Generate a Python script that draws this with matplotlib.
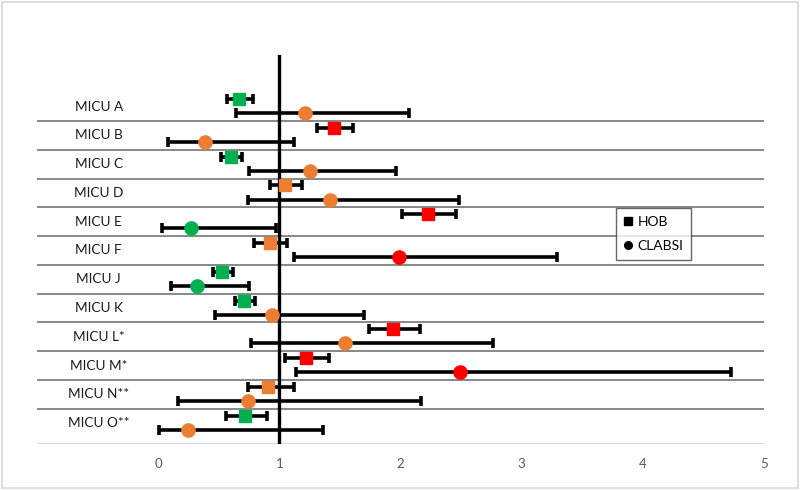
import numpy as np
import matplotlib.pyplot as plt
from matplotlib.lines import Line2D

# %%
units = ['MICU A', 'MICU B', 'MICU C', 'MICU D', 'MICU E', 'MICU F',
         'MICU J', 'MICU K', 'MICU L*', 'MICU M*', 'MICU N**', 'MICU O**']

hob = [0.67, 1.45, 0.60, 1.05, 2.23, 0.92, 0.53, 0.71, 1.94, 1.22, 0.91, 0.72]
hob_lo = [0.57, 1.31, 0.52, 0.92, 2.01, 0.79, 0.45, 0.63, 1.74, 1.05, 0.74, 0.56]
hob_hi = [0.78, 1.61, 0.69, 1.19, 2.46, 1.06, 0.62, 0.80, 2.16, 1.41, 1.12, 0.90]
hob_col = ['g', 'r', 'g', 'o', 'r', 'o', 'g', 'g', 'r', 'r', 'o', 'g']

clabsi = [1.21, 0.39, 1.25, 1.42, 0.27, 1.99, 0.32, 0.94, 1.54, 2.49, 0.74, 0.25]
clabsi_lo = [0.64, 0.08, 0.75, 0.74, 0.03, 1.12, 0.11, 0.47, 0.77, 1.14, 0.16, 0.01]
clabsi_hi = [2.07, 1.12, 1.96, 2.48, 0.97, 3.29, 0.75, 1.70, 2.76, 4.73, 2.17, 1.36]
clabsi_col = ['o', 'o', 'o', 'o', 'g', 'r', 'g', 'o', 'o', 'r', 'o', 'o']

xticks = [0, 1, 2, 3, 4, 5]

colors = {'g': '#00B050', 'o': '#ED7D31', 'r': '#FF0000'}

# %%
plt.rcParams['font.family'] = ['Lato', 'DejaVu Sans']

fig = plt.figure(figsize=(8, 4.9), dpi=100)
# chart area border
fig.patches.append(plt.Rectangle((0.003, 0.004), 0.994, 0.992, transform=fig.transFigure,
                                 fill=False, edgecolor='#d9d9d9', linewidth=1.2))
ax = fig.add_axes([0.04625, 0.0939, 0.90875, 0.7939])

rows = np.arange(len(units))
y_hob = rows + 0.24
y_cla = rows + 0.73

# separators between units
for k in range(1, len(units)):
    ax.axhline(k, color='#7f7f7f', linewidth=1.3, zorder=1)
ax.axhline(12.22, color='#d9d9d9', linewidth=1.5, zorder=1)

# reference line
ax.axvline(1, color='black', linewidth=2.4, zorder=2)

for i in rows:
    ax.errorbar(hob[i], y_hob[i], xerr=[[hob[i] - hob_lo[i]], [hob_hi[i] - hob[i]]],
                fmt='s', color=colors[hob_col[i]], markersize=8.5, ecolor='black',
                elinewidth=2.6, capsize=3.5, capthick=2.6, zorder=3)
    ax.errorbar(clabsi[i], y_cla[i], xerr=[[clabsi[i] - clabsi_lo[i]], [clabsi_hi[i] - clabsi[i]]],
                fmt='o', color=colors[clabsi_col[i]], markersize=9.5, ecolor='black',
                elinewidth=2.6, capsize=3.5, capthick=2.6, zorder=3)
    ax.text(-0.49, rows[i] + 0.5, units[i], ha='center', va='center',
            fontsize=9.8, color='#1a1a1a')

ax.set_xlim(-1, 5)
ax.set_ylim(12.22, -1.29)
ax.set_xticks(xticks)
ax.set_xticklabels([str(t) for t in xticks], fontsize=9.5, color='#595959')
ax.set_yticks([])
ax.tick_params(axis='x', length=0, pad=10)
for s in ax.spines.values():
    s.set_visible(False)

handles = [Line2D([], [], marker='s', color='black', linestyle='none', markersize=5.5),
           Line2D([], [], marker='o', color='black', linestyle='none', markersize=5.5)]
leg = fig.legend(handles, ['HOB', 'CLABSI'], loc='upper left', bbox_to_anchor=(0.77, 0.5755),
                 fontsize=10, frameon=True, fancybox=False, handlelength=0.6,
                 handletextpad=0.4, labelspacing=0.9, borderpad=0.55, borderaxespad=0)
leg.get_frame().set_edgecolor('#404040')
leg.get_frame().set_linewidth(1.0)

plt.savefig('out.png', dpi=100)
